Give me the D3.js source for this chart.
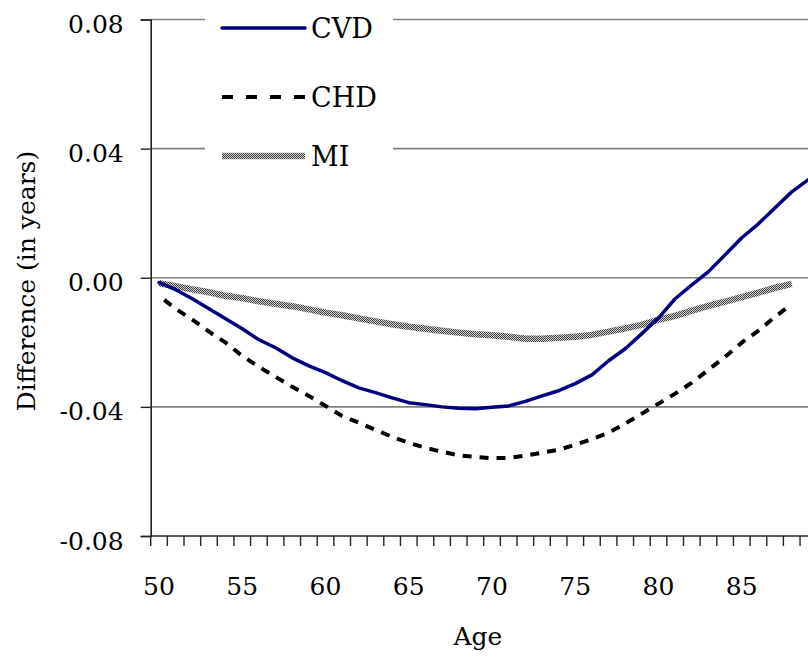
<!DOCTYPE html>
<html>
<head>
<meta charset="utf-8">
<script src="https://cdn.jsdelivr.net/npm/d3@7"></script>
<style>
  html, body { margin: 0; padding: 0; background: #fff; overflow: hidden; }
  svg { display: block; }
</style>
</head>
<body>
<div id="chart"></div>
<script>
// Ages on the category axis
const ages = d3.range(50, 90);
const xTickLabels = [50, 55, 60, 65, 70, 75, 80, 85];
const yTicks = [-0.08, -0.04, 0.00, 0.04, 0.08];
const gridTicks = [-0.04, 0.00, 0.04, 0.08];

// Difference in life expectancy (years) by age
const cvd = [-0.0015, -0.0037, -0.0065, -0.0096, -0.0127, -0.0158, -0.0192, -0.0217, -0.0248, -0.0273,
             -0.0294, -0.0319, -0.0341, -0.0356, -0.0372, -0.0387, -0.0393, -0.0400, -0.0404, -0.0406,
             -0.0401, -0.0397, -0.0383, -0.0366, -0.0350, -0.0328, -0.0301, -0.0257, -0.0220, -0.0173,
             -0.0124, -0.0065, -0.0022, 0.0019, 0.0071, 0.0124, 0.0167, 0.0217, 0.0266, 0.0304];
const chd = [-0.0056, -0.0096, -0.0130, -0.0167, -0.0201, -0.0242, -0.0276, -0.0307, -0.0338, -0.0366,
             -0.0397, -0.0428, -0.0449, -0.0471, -0.0493, -0.0511, -0.0527, -0.0539, -0.0550, -0.0555,
             -0.0559, -0.0558, -0.0551, -0.0542, -0.0533, -0.0517, -0.0500, -0.0480, -0.0452, -0.0421,
             -0.0390, -0.0359, -0.0325, -0.0285, -0.0245, -0.0201, -0.0164, -0.0121, -0.0081];
const mi  = [-0.0017, -0.0026, -0.0036, -0.0045, -0.0056, -0.0063, -0.0073, -0.0081, -0.0088, -0.0098,
             -0.0108, -0.0116, -0.0126, -0.0135, -0.0144, -0.0152, -0.0158, -0.0164, -0.0170, -0.0175,
             -0.0178, -0.0183, -0.0189, -0.0189, -0.0186, -0.0183, -0.0177, -0.0167, -0.0157, -0.0146,
             -0.0130, -0.0118, -0.0102, -0.0087, -0.0074, -0.0060, -0.0046, -0.0031, -0.0019];

const seriesNames = ["CVD", "CHD", "MI"];

const W = 808, H = 659;
const plotLeft = 150.7, step = 16.65;
const plotTop = 19.5, plotBottom = 536;
const FONT = "DejaVu Serif";

const svg = d3.select("#chart").append("svg")
  .attr("width", W).attr("height", H)
  .attr("font-family", FONT);

// Checkered fill used for the MI line
const defs = svg.append("defs");
const pat = defs.append("pattern")
  .attr("id", "checker").attr("patternUnits", "userSpaceOnUse")
  .attr("width", 2).attr("height", 2);
pat.append("rect").attr("width", 2).attr("height", 2).attr("fill", "#d8d8d8");
pat.append("rect").attr("x", 0).attr("y", 0).attr("width", 1).attr("height", 1).attr("fill", "#3a3a3a");
pat.append("rect").attr("x", 1).attr("y", 1).attr("width", 1).attr("height", 1).attr("fill", "#3a3a3a");

const x = d3.scaleBand().domain(ages).range([plotLeft, plotLeft + ages.length * step]).paddingInner(0).paddingOuter(0);
const y = d3.scaleLinear().domain([-0.08, 0.08]).range([plotBottom, plotTop]);
const cx = a => x(a) + x.bandwidth() / 2;
const plotRight = plotLeft + ages.length * step;

// Horizontal gridlines
svg.append("g").selectAll("line").data(gridTicks).join("line")
  .attr("x1", plotLeft).attr("x2", plotRight)
  .attr("y1", d => y(d)).attr("y2", d => y(d))
  .attr("stroke", "#808080").attr("stroke-width", 1.6);

// Y axis
const fmt = d3.format(".2f");
const yAxis = d3.axisLeft(y).tickValues(yTicks).tickSize(10).tickPadding(17)
  .tickFormat(d => d < 0 ? "-" + fmt(-d) : fmt(d));
const gy = svg.append("g").attr("transform", `translate(${plotLeft},0)`).call(yAxis)
  .attr("font-family", FONT).attr("font-size", 25);
gy.select(".domain").attr("stroke", "#222").attr("stroke-width", 1.6);
gy.selectAll(".tick line").attr("stroke", "#222").attr("stroke-width", 1.4);
gy.selectAll(".tick text").attr("fill", "#000").attr("dy", "0.52em");

// X axis: ticks on category boundaries, labels centred on every fifth age
const gx = svg.append("g");
gx.append("line").attr("x1", plotLeft).attr("x2", plotRight)
  .attr("y1", plotBottom).attr("y2", plotBottom)
  .attr("stroke", "#222").attr("stroke-width", 1.6);
gx.selectAll("line.tk").data(d3.range(ages.length + 1)).join("line")
  .attr("class", "tk")
  .attr("x1", i => plotLeft + i * x.bandwidth()).attr("x2", i => plotLeft + i * x.bandwidth())
  .attr("y1", plotBottom).attr("y2", plotBottom + 10)
  .attr("stroke", "#222").attr("stroke-width", 1.4);
gx.selectAll("text").data(xTickLabels).join("text")
  .attr("x", d => cx(d)).attr("y", 595)
  .attr("text-anchor", "middle").attr("font-size", 25).attr("fill", "#000")
  .text(d => d);

// Axis titles
svg.append("text").attr("x", 478).attr("y", 645).attr("text-anchor", "middle")
  .attr("font-size", 25).text("Age");
svg.append("text").attr("transform", "translate(35,281) rotate(-90)")
  .attr("text-anchor", "middle").attr("font-size", 25).text("Difference (in years)");

// Series lines
const line = d3.line().x((d, i) => cx(ages[i])).y(d => y(d));
svg.append("path").datum(mi).attr("d", line)
  .attr("fill", "none").attr("stroke", "url(#checker)").attr("stroke-width", 6.5);
const chdPath = svg.append("path").datum(chd).attr("d", line)
  .attr("fill", "none").attr("stroke", "#000").attr("stroke-width", 4)
  .attr("stroke-dasharray", "9,8");
// phase the dashes so the line finishes on a gap
const L = chdPath.node().getTotalLength();
chdPath.attr("stroke-dashoffset", (((17 - (L - 8)) % 17) + 17 + 9) % 17);
svg.append("path").datum(cvd).attr("d", line)
  .attr("fill", "none").attr("stroke", "#000080").attr("stroke-width", 3.5)
  .attr("stroke-linejoin", "round").attr("stroke-linecap", "round");

// Legend
const lg = svg.append("g");
lg.append("rect").attr("x", 205).attr("y", 4).attr("width", 188).attr("height", 182).attr("fill", "#fff");
const legendRows = [
  { name: seriesNames[0], y: 28, stroke: "#000080", w: 3.5, dash: null, cap: "round" },
  { name: seriesNames[1], y: 97, stroke: "#000", w: 4, dash: "11,13", cap: "butt" },
  { name: seriesNames[2], y: 156, stroke: "url(#checker)", w: 6.5, dash: null, cap: "butt" }
];
legendRows.forEach(r => {
  lg.append("line").attr("x1", 222).attr("x2", 305).attr("y1", r.y).attr("y2", r.y)
    .attr("stroke", r.stroke).attr("stroke-width", r.w)
    .attr("stroke-dasharray", r.dash).attr("stroke-linecap", r.cap);
  lg.append("text").attr("x", 311).attr("y", r.y + 10).attr("font-size", 27).text(r.name);
});
</script>
</body>
</html>
